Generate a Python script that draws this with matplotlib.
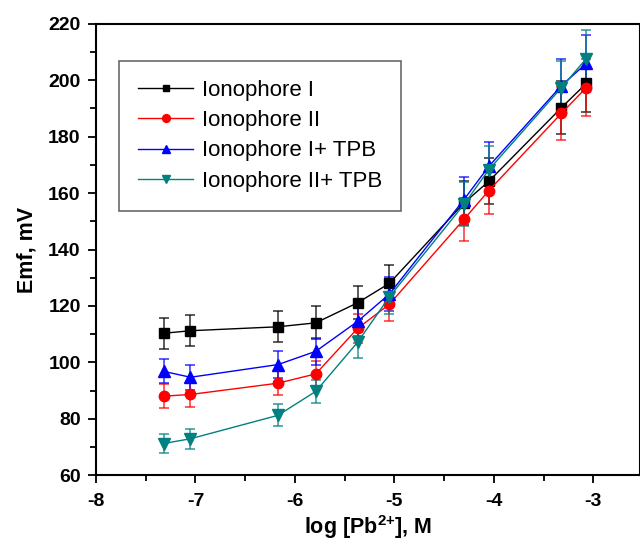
import matplotlib.pyplot as plt

plt.rcParams['font.family'] = ['Liberation Sans', 'DejaVu Sans']
plt.rcParams['axes.unicode_minus'] = False
plt.rcParams['mathtext.fontset'] = 'custom'
plt.rcParams['mathtext.rm'] = 'Liberation Sans'
plt.rcParams['mathtext.bf'] = 'Liberation Sans:bold'

# 数据
log_pb = [-7.32, -7.05, -6.17, -5.79, -5.37, -5.05, -4.30, -4.05, -3.32, -3.07]

emf_1 = [110.3, 111.2, 112.6, 114.0, 121.1, 128.0, 156.5, 164.2, 190.3, 198.9]
emf_2 = [88.0, 88.6, 92.6, 95.9, 112.0, 120.6, 150.7, 160.9, 188.3, 197.4]
emf_3 = [96.8, 94.7, 99.2, 103.9, 114.5, 124.2, 157.7, 169.5, 198.1, 206.0]
emf_4 = [71.2, 72.9, 81.2, 89.7, 107.1, 123.2, 156.0, 168.3, 197.4, 207.7]

err_1 = [5.5, 5.5, 5.5, 5.8, 5.8, 6.4, 7.8, 8.2, 9.4, 10.0]
err_2 = [4.3, 4.3, 4.2, 4.5, 5.0, 5.9, 7.6, 8.2, 9.4, 10.0]
err_3 = [4.2, 4.5, 4.7, 4.7, 5.0, 6.0, 7.9, 8.6, 9.4, 10.0]
err_4 = [3.5, 3.5, 3.9, 4.1, 5.5, 6.0, 7.8, 8.4, 9.6, 10.0]

labels = ['Ionophore I', 'Ionophore II', 'Ionophore I+ TPB', 'Ionophore II+ TPB']

fig = plt.figure(figsize=(6.4, 5.43), dpi=100)
ax = fig.add_axes([0.15, 0.125, 0.85, 0.831])

series = [
    (emf_1, err_1, 'black', 's', 6.5),
    (emf_2, err_2, 'red', 'o', 7.5),
    (emf_3, err_3, 'blue', '^', 8),
    (emf_4, err_4, '#008080', 'v', 8),
]
handles = []
for (y, e, c, m, ms), lab in zip(series, labels):
    cont = ax.errorbar(log_pb, y, yerr=e, color=c, marker=m, markersize=ms,
                       linewidth=1, elinewidth=1.2, capsize=3.5, capthick=1.2,
                       ecolor=c, label=lab)
    for part in cont[1] + cont[2]:
        part.set_alpha(0.75)
    handles.append(cont[0])

ax.set_xlim(-8, -2.53)
ax.set_ylim(60, 220)
ax.set_xticks([-8, -7, -6, -5, -4, -3])
ax.set_xticks([-7.5, -6.5, -5.5, -4.5, -3.5], minor=True)
ax.set_yticks(range(60, 221, 20))
ax.set_yticks(range(70, 220, 20), minor=True)
ax.tick_params(which='major', direction='out', width=1.3, length=6)
ax.tick_params(which='minor', direction='out', width=1.3, length=4)
ax.tick_params(labelsize=14)
ax.tick_params(axis='x', pad=7)
ax.tick_params(axis='y', pad=5)
for lab in ax.get_xticklabels() + ax.get_yticklabels():
    lab.set_fontweight('bold')
for sp in ax.spines.values():
    sp.set_linewidth(1.5)

ax.set_xlabel('log [Pb$^{\\mathbf{2}{\\mathbf{+}}}$], M', fontsize=15.5, fontweight='bold', labelpad=2)
ax.set_ylabel('Emf, mV', fontsize=15.5, fontweight='bold', labelpad=8)

leg = ax.legend(handles, labels, loc='upper left', bbox_to_anchor=(0.042, 0.918), borderaxespad=0,
                fontsize=16, frameon=True, fancybox=False, edgecolor='#444444',
                handlelength=2.5, handletextpad=0.4, borderpad=0.85, labelspacing=0.42,
                markerscale=0.75)
leg.get_frame().set_linewidth(1.2)

plt.savefig('out.png', dpi=100)
